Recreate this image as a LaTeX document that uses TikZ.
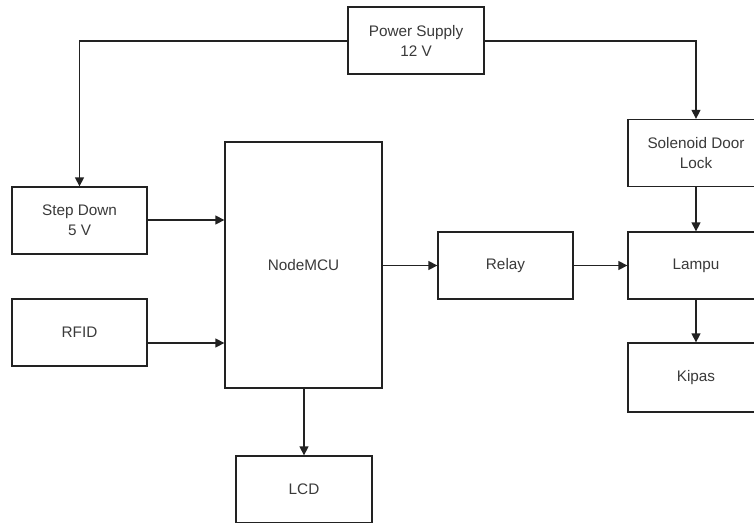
\documentclass[tikz,border=0pt]{standalone}
\usepackage{fontspec}
\setmainfont{Liberation Sans}
\usetikzlibrary{arrows.meta}
\definecolor{linec}{HTML}{222222}
\definecolor{textc}{HTML}{3A3A3A}
\tikzset{
  blockbox/.style={draw=linec, line width=1.3pt, fill=white, inner sep=0pt, align=center,
    text=textc, font=\fontsize{15.3}{20}\selectfont},
  conn/.style={draw=linec, line width=1.3pt, -{Triangle[length=9pt,width=9pt]}},
}
\begin{document}
\begin{tikzpicture}[x=1pt,y=-1pt]
\useasboundingbox (0,0) rectangle (754,522);
\clip (0,0) rectangle (754,522);
\fill[white] (0,0) rectangle (754,522);
\node[blockbox, minimum width=136pt, minimum height=67pt] (ps) at (416,40.5) {Power Supply\\12 V};
\node[blockbox, minimum width=135pt, minimum height=67pt] (sd) at (79.5,220.5) {Step Down\\5 V};
\node[blockbox, minimum width=135pt, minimum height=67pt] (rfid) at (79.5,332.5) {RFID};
\node[blockbox, minimum width=157pt, minimum height=246pt] (mcu) at (303.5,265) {NodeMCU};
\node[blockbox, minimum width=135pt, minimum height=67pt] (relay) at (505.5,265.5) {Relay};
\node[blockbox, minimum width=136pt, minimum height=67pt] (sol) at (696,153) {Solenoid Door\\Lock};
\node[blockbox, minimum width=136pt, minimum height=67pt] (lampu) at (696,265.5) {Lampu};
\node[blockbox, minimum width=136pt, minimum height=69pt] (kipas) at (696,377.5) {Kipas};
\node[blockbox, minimum width=136pt, minimum height=67pt] (lcd) at (304,489.5) {LCD};
\coordinate (cl) at (79.5,41);
\coordinate (cr) at (696,41);
\draw[conn] (ps.west |- cl) -- (cl) -- (sd.north);
\draw[conn] (ps.east |- cr) -- (cr) -- (sol.north);
\draw[conn] (sd.east |- 0,220) -- (mcu.west |- 0,220);
\draw[conn] (rfid.east |- 0,343) -- (mcu.west |- 0,343);
\draw[conn] (mcu.east |- relay.west) -- (relay.west);
\draw[conn] (relay.east) -- (lampu.west);
\draw[conn] (sol.south) -- (lampu.north);
\draw[conn] (lampu.south) -- (kipas.north);
\draw[conn] (mcu.south -| lcd.north) -- (lcd.north);
\end{tikzpicture}
\end{document}
